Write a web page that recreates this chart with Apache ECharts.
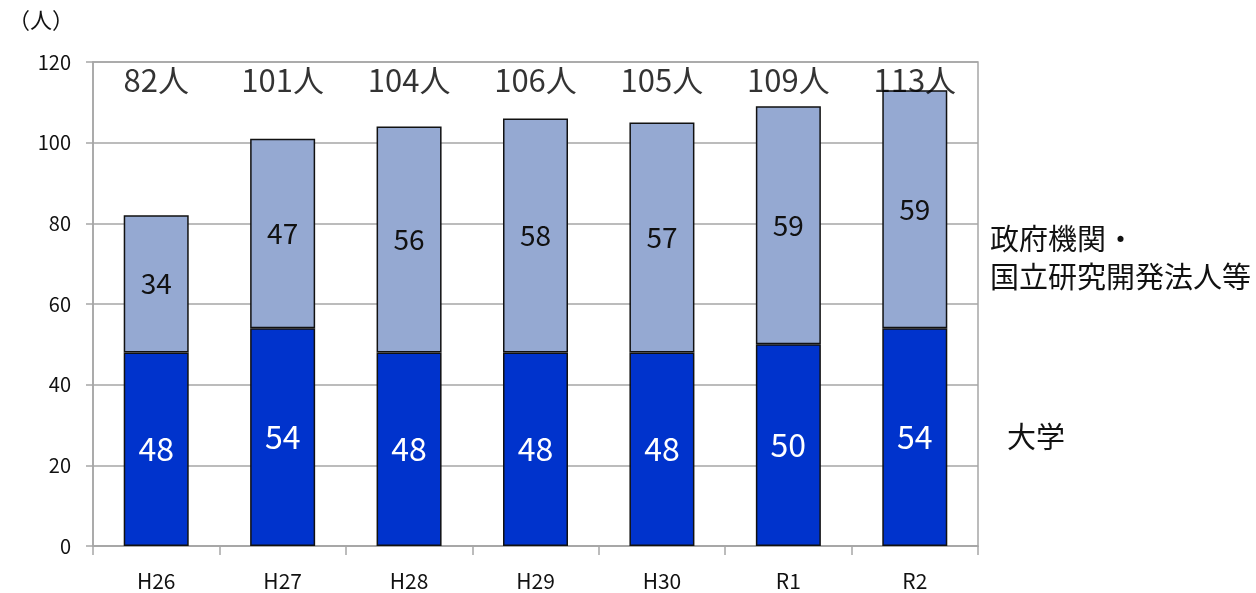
<!DOCTYPE html>
<html><head><meta charset="utf-8">
<script src="https://cdn.jsdelivr.net/npm/echarts@6/dist/echarts.min.js"></script>
<style>html,body{margin:0;padding:0;background:#fff}#c{width:1256px;height:593px}</style>
</head><body><div id="c"></div>
<script>
const categories = ['H26','H27','H28','H29','H30','R1','R2'];
const university = [48,54,48,48,48,50,54];
const government = [34,47,56,58,57,59,59];
const totals = [82,101,104,106,105,109,113];
const yTicks = [0,20,40,60,80,100,120];
const seriesNames = ['大学','政府機関・\n国立研究開発法人等'];

const FONT = '"Noto Sans CJK JP", "Noto Sans", sans-serif';
const LABEL_ROW = 115.5;
const chart = echarts.init(document.getElementById('c'));
chart.setOption({
  animation:false,
  textStyle:{fontFamily:FONT},
  grid:{left:93,right:278,top:62,bottom:47,show:true,borderColor:'#a6a6a6',borderWidth:1.5},
  xAxis:{type:'category',data:categories,
    axisLine:{lineStyle:{color:'#a6a6a6',width:1.5}},
    axisTick:{show:true,alignWithLabel:false,length:9,lineStyle:{color:'#a6a6a6',width:1.5}},
    axisLabel:{color:'#111',fontSize:21,margin:25,fontFamily:FONT}},
  yAxis:{type:'value',min:yTicks[0],max:yTicks[yTicks.length-1],interval:yTicks[1]-yTicks[0],
    axisLine:{show:true,lineStyle:{color:'#a6a6a6',width:1.5}},
    axisTick:{show:true,length:7,lineStyle:{color:'#a6a6a6',width:1.5}},
    splitLine:{lineStyle:{color:'#a6a6a6',width:1.5}},
    axisLabel:{color:'#111',fontSize:20,margin:22,fontFamily:FONT}},
  series:[
    {name:seriesNames[0],type:'bar',stack:'s',data:university,barWidth:65,
     itemStyle:{color:'#0033cc',borderColor:'#111',borderWidth:1.5},
     label:{show:true,position:'inside',color:'#fff',fontSize:32,fontFamily:FONT}},
    {name:seriesNames[1],type:'bar',stack:'s',data:government,barWidth:65,
     itemStyle:{color:'#95a9d2',borderColor:'#111',borderWidth:1.5},
     label:{show:true,position:'inside',color:'#111',fontSize:28,fontFamily:FONT}},
    {type:'scatter',symbolSize:0,data:totals.map((t,i)=>[i,LABEL_ROW]),z:5,
     label:{show:true,position:'inside',color:'#000',fontSize:31,fontFamily:FONT,
       formatter:p=>totals[p.dataIndex]+'人'}}
  ],
  graphic:[
    {type:'text',left:8,top:9,style:{text:'（人）',font:'22px '+FONT,fill:'#111'}},
    {type:'text',left:990,top:220,style:{text:seriesNames[1],font:'29px '+FONT,fill:'#111',lineHeight:38}},
    {type:'text',left:1007,top:422,style:{text:seriesNames[0],font:'29px '+FONT,fill:'#111'}}
  ]
});
</script></body></html>
